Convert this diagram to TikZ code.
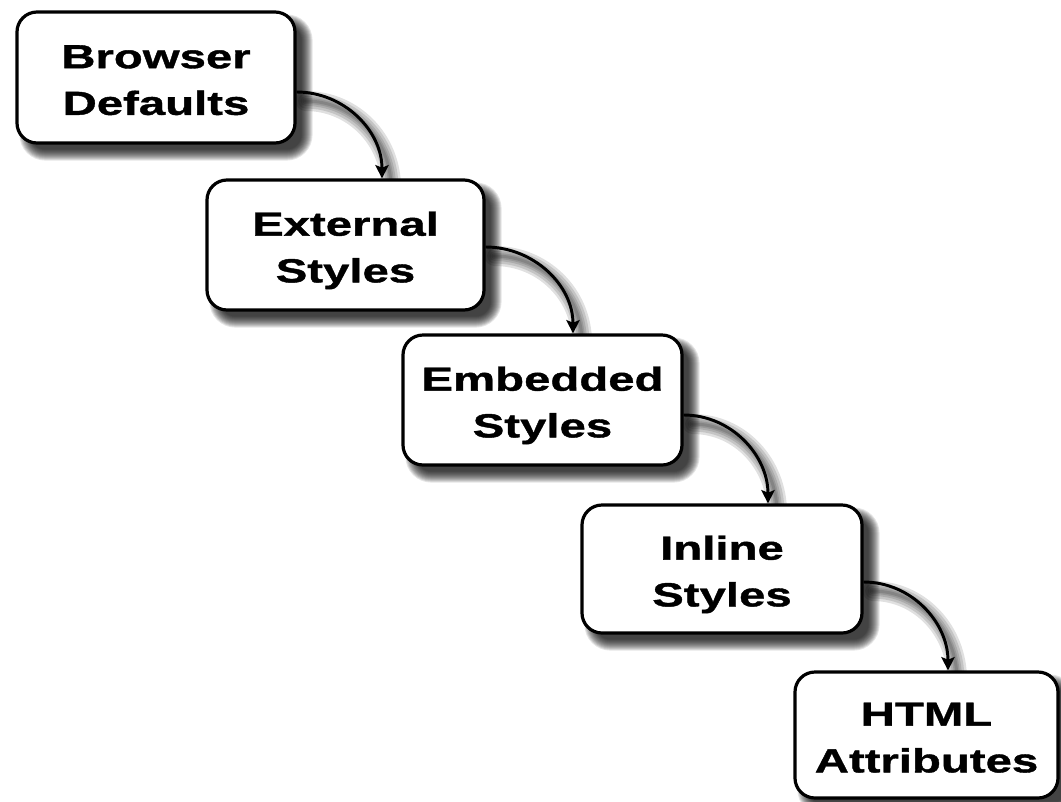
\documentclass[tikz,border=0pt]{standalone}
\usepackage{fontspec}
\newfontfamily\boxfont[FakeStretch=1.42,FakeBold=1.2]{Liberation Sans}
\usetikzlibrary{arrows.meta,calc,backgrounds}

\tikzset{
  stagebox/.style={draw=black, line width=2.4pt, fill=white, rounded corners=15pt,
    align=center, inner sep=0pt, text height=56pt, text depth=0pt,
    font=\boxfont\bfseries\fontsize{25pt}{35pt}\selectfont},
  conn/.style={line width=2.2pt, -{Stealth[length=10pt,width=10pt,inset=2pt]}},
  boxshade/.style={fill=black, opacity=0.1},
  lineshade/.style={draw=black, opacity=0.12, line cap=round},
}

\begin{document}
\begin{tikzpicture}[x=0.75pt,y=-0.75pt]
\useasboundingbox (0,0) rectangle (1061,801);

\node[stagebox, minimum width=208.5pt, minimum height=98.25pt] (b1) at (156,77.5) {Browser\\Defaults};
\node[stagebox, minimum width=207.75pt, minimum height=97.5pt] (b2) at (345.5,245) {External\\Styles};
\node[stagebox, minimum width=209.25pt, minimum height=97.5pt] (b3) at (542.5,400) {Embedded\\Styles};
\node[stagebox, minimum width=210pt, minimum height=96pt] (b4) at (722,569) {Inline\\Styles};
\node[stagebox, minimum width=197.25pt, minimum height=94.5pt] (b5) at (926.5,735) {HTML\\Attributes};

\coordinate (s1) at ($(b1.east)+(0,14.5)$);
\coordinate (e1) at ($(b2.north)+(36.5,0)$);
\coordinate (s2) at ($(b2.east)+(0,2)$);
\coordinate (e2) at ($(b3.north)+(30.5,0)$);
\coordinate (s3) at ($(b3.east)+(0,15)$);
\coordinate (e3) at ($(b4.north)+(46,0)$);
\coordinate (s4) at ($(b4.east)+(0,13)$);
\coordinate (e4) at ($(b5.north)+(21.5,0)$);

\foreach \i in {1,...,4}{
  \draw[conn] (s\i) to[out=0,in=90] (e\i);
}

\begin{scope}[on background layer]
  \fill[white] (0,0) rectangle (1061,801);
  \foreach \n in {b1,b2,b3,b4,b5}{
    \foreach \s [evaluate=\s as \r using 15+0.75*\s,
                 evaluate=\s as \a using 10-\s,
                 evaluate=\s as \b using 10+\s] in {-5,...,6}{
      \fill[boxshade, rounded corners=\r pt]
        ([shift={(\a,\a)}]\n.north west) rectangle ([shift={(\b,\b)}]\n.south east);
    }
  }
  \foreach \i in {1,...,4}{
    \foreach \w [evaluate=\w as \lw using 0.75*\w] in {20,15,10,6,3}{
      \draw[lineshade, line width=\lw pt]
        ([shift={(9,9)}]s\i) to[out=0,in=90] ([shift={(9,9)}]e\i);
    }
  }
\end{scope}
\end{tikzpicture}
\end{document}
